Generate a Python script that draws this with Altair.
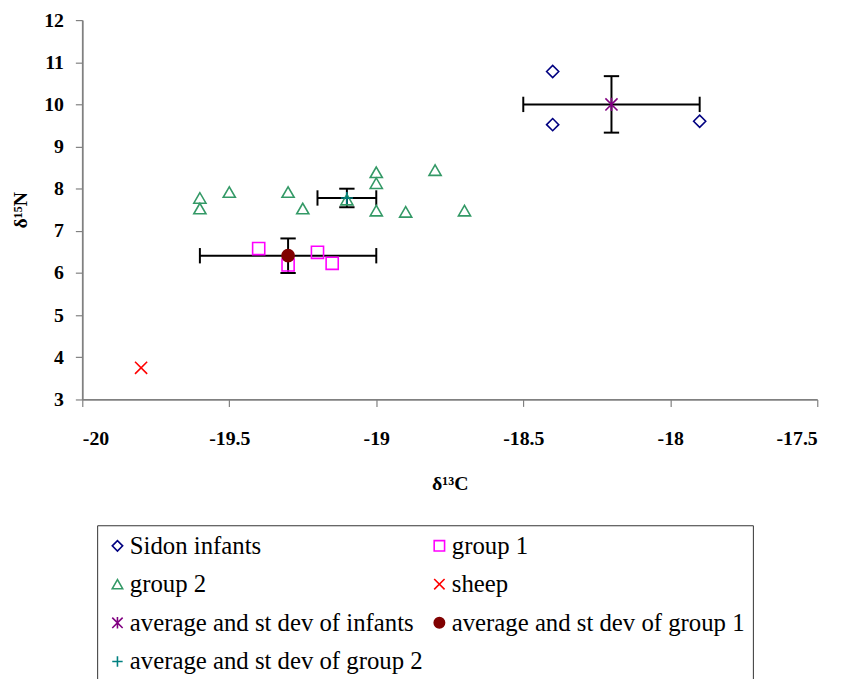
import altair as alt
import pandas as pd

# ---- data ----
infants_x = [-18.4, -18.4, -17.9]
infants_y = [10.78, 9.52, 9.60]
group1_x = [-19.4, -19.3, -19.2, -19.15]
group1_y = [6.58, 6.19, 6.49, 6.23]
group2_x = [-19.6, -19.6, -19.5, -19.3, -19.25, -19.1, -19.0, -19.0, -19.0, -18.9, -18.8, -18.7]
group2_y = [7.78, 7.53, 7.92, 7.92, 7.53, 7.74, 8.39, 8.13, 7.48, 7.45, 8.44, 7.48]
sheep_x = [-19.8]
sheep_y = [3.75]

avg_names = ["average and st dev of infants", "average and st dev of group 1", "average and st dev of group 2"]
avg_x = [-18.2, -19.3, -19.1]
avg_y = [10.0, 6.41, 7.78]
avg_xerr = [0.30, 0.30, 0.10]
avg_yerr = [0.67, 0.41, 0.22]

# legend order (Vega fills the two legend columns top to bottom)
series_names = ["Sidon infants", "group 2",
                "average and st dev of infants", "average and st dev of group 2",
                "group 1", "sheep", "average and st dev of group 1"]
series_colors = ["#000080", "#339966", "#800080", "#008080", "#FF00FF", "#FF0000", "#800000"]
series_shapes = ["diamond", "triangle-up",
                 "M-1,-1L1,1M-1,1L1,-1M0,-1.1L0,1.1",
                 "M-1,0L1,0M0,-1L0,1",
                 "square",
                 "M-1,-1L1,1M-1,1L1,-1",
                 "circle"]
series_fills = ["transparent", "transparent", "transparent", "transparent",
                "transparent", "transparent", "#800000"]

x_ticks = [-20, -19.5, -19, -18.5, -18, -17.5]
y_ticks = [3, 4, 5, 6, 7, 8, 9, 10, 11, 12]

# ---- tables ----
rows = []
for name, xs, ys in [("Sidon infants", infants_x, infants_y),
                     ("group 1", group1_x, group1_y),
                     ("group 2", group2_x, group2_y),
                     ("sheep", sheep_x, sheep_y)]:
    for a, b in zip(xs, ys):
        rows.append({"series": name, "x": a, "y": b})
for name, a, b in zip(avg_names, avg_x, avg_y):
    rows.append({"series": name, "x": a, "y": b})
pts = pd.DataFrame(rows)

err = pd.DataFrame({
    "series": avg_names,
    "cx": avg_x, "cy": avg_y,
    "xlo": [a - e for a, e in zip(avg_x, avg_xerr)],
    "xhi": [a + e for a, e in zip(avg_x, avg_xerr)],
    "ylo": [b - e for b, e in zip(avg_y, avg_yerr)],
    "yhi": [b + e for b, e in zip(avg_y, avg_yerr)],
})

FONT = "Liberation Serif"
xscale = alt.Scale(domain=[-20, -17.5], nice=False, zero=False)
yscale = alt.Scale(domain=[3, 12], nice=False, zero=False)
xaxis = alt.Axis(title="δ¹³C", values=x_ticks, labelExpr="datum.value + ''",
                 titleY=85, titleBaseline="middle", titleAlign="center")
yaxis = alt.Axis(title="δ¹⁵N", values=y_ticks, labelExpr="datum.value + ''",
                 titleX=-62, titleBaseline="middle", titleAlign="center", titleAngle=270)

base = alt.Chart(err)
h_bar = base.mark_rule(color="black", strokeWidth=2).encode(
    x=alt.X("xlo:Q", scale=xscale, axis=xaxis), x2="xhi:Q",
    y=alt.Y("cy:Q", scale=yscale, axis=yaxis))
v_bar = base.mark_rule(color="black", strokeWidth=2).encode(
    x=alt.X("cx:Q", scale=xscale, axis=xaxis),
    y=alt.Y("ylo:Q", scale=yscale, axis=yaxis), y2="yhi:Q")

def cap(xf, yf, shape):
    return base.mark_point(shape=shape, size=240, color="black", strokeWidth=2,
                           filled=False, opacity=1).encode(
        x=alt.X(xf, scale=xscale, axis=xaxis),
        y=alt.Y(yf, scale=yscale, axis=yaxis))

vcap = "M0,-1L0,1"
hcap = "M-1,0L1,0"
caps = [cap("xlo:Q", "cy:Q", vcap), cap("xhi:Q", "cy:Q", vcap),
        cap("cx:Q", "ylo:Q", hcap), cap("cx:Q", "yhi:Q", hcap)]

leg = alt.Legend(title=None, orient="none", legendX=15, legendY=510, columns=2,
                 strokeColor="#333333", fillColor="white", padding=8,
                 labelFont=FONT, labelFontSize=25, labelColor="black", labelLimit=600,
                 symbolSize=110, symbolStrokeWidth=1.6, rowPadding=13, columnPadding=4,
                 labelOffset=0)

points = alt.Chart(pts).mark_point(size=150, strokeWidth=1.6, opacity=1).encode(
    x=alt.X("x:Q", scale=xscale, axis=xaxis),
    y=alt.Y("y:Q", scale=yscale, axis=yaxis),
    stroke=alt.Stroke("series:N", scale=alt.Scale(domain=series_names, range=series_colors), legend=leg),
    fill=alt.Fill("series:N", scale=alt.Scale(domain=series_names, range=series_fills), legend=leg),
    shape=alt.Shape("series:N", scale=alt.Scale(domain=series_names, range=series_shapes), legend=leg),
)

chart = alt.layer(h_bar, v_bar, *caps, points).properties(
    width=742, height=383,
    autosize=alt.AutoSizeParams(type="none"),
    padding={"left": 75, "top": 9, "right": 28, "bottom": 279},
).configure_view(stroke=None).configure_axis(
    grid=False, domainColor="#808080", domainWidth=1.8, tickColor="#808080", tickWidth=1.2,
    labelFont=FONT, labelFontWeight="bold", labelFontSize=20, labelColor="black",
    titleFont=FONT, titleFontWeight="bold", titleFontSize=20, titleColor="black",
).configure_axisX(tickSize=7, labelPadding=22).configure_axisY(tickSize=7, labelPadding=12)

chart.save("out.html", embed_options={"renderer": "svg", "actions": False})
